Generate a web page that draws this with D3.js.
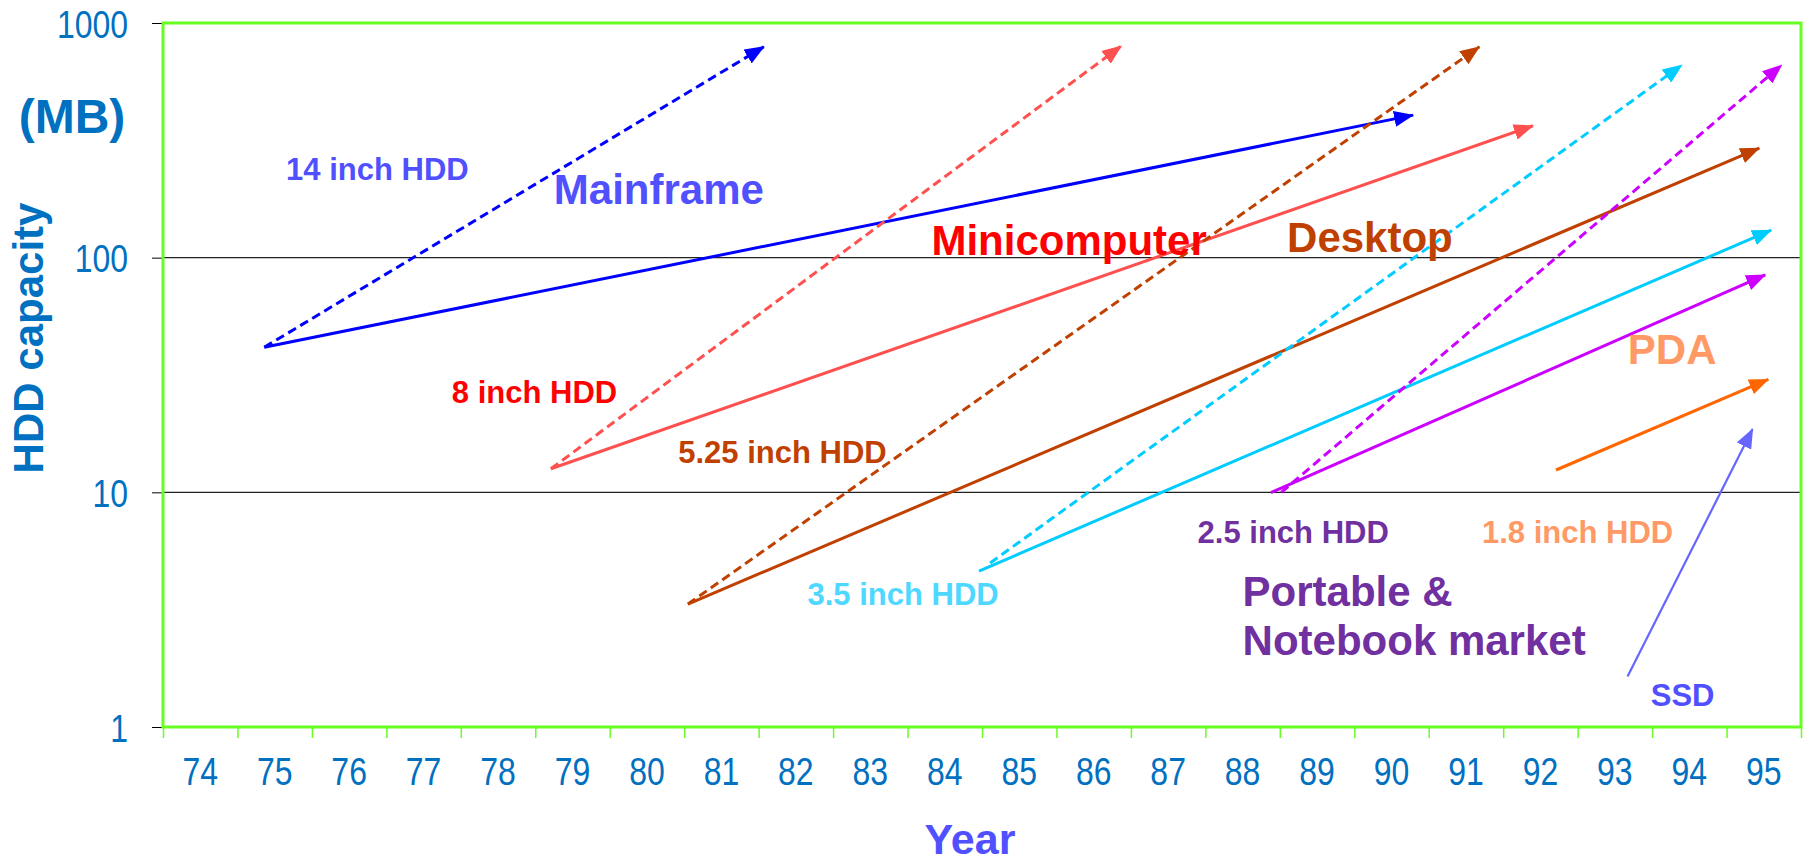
<!DOCTYPE html>
<html>
<head>
<meta charset="utf-8">
<script src="https://cdn.jsdelivr.net/npm/d3@7"></script>
<style>
  body { margin: 0; background: #fff; }
  svg text { font-family: "Liberation Sans", Arial, sans-serif; }
</style>
</head>
<body>
<div id="chart"></div>
<script>
// ---- data ----
var yearLabels = ["74","75","76","77","78","79","80","81","82","83","84",
                  "85","86","87","88","89","90","91","92","93","94","95"];
var capacityTicks = [1, 10, 100, 1000];
var gridValues = [10, 100];

// trend arrows: start (year, MB) -> end (year, MB)
var trendNames   = ["14 dash", "14 solid", "8 dash", "8 solid", "5.25 dash", "5.25 solid",
                    "3.5 dash", "3.5 solid", "2.5 dash", "2.5 solid", "1.8 solid", "SSD"];
var trendFromYear = [74.86, 74.86, 78.71, 78.71, 80.55, 80.55, 84.61, 84.46, 88.52, 88.38, 92.21, 93.17];
var trendFromMB   = [41.5,  41.5,  12.6,  12.6,  3.34,  3.34,  5.0,   4.62,  10,    9.96,  12.45, 1.64];
var trendToYear   = [81.57, 90.29, 86.37, 91.90, 91.18, 94.94, 93.90, 95.10, 95.24, 95.02, 95.06, 94.85];
var trendToMB     = [792,   405,   798,   365,   792,   293,   662,   131,   662,   84.4,  30.3,  18.6];

// text annotations: anchor (year, MB)
var noteText  = ["14 inch HDD", "Mainframe", "8 inch HDD", "Minicomputer", "5.25 inch HDD", "Desktop",
                 "3.5 inch HDD", "2.5 inch HDD", "Portable &", "Notebook market", "1.8 inch HDD", "PDA", "SSD"];
var noteYear  = [76.38, 80.16, 78.49, 85.67, 81.82, 89.71, 83.44, 88.68, 88.0, 88.0, 92.50, 93.77, 93.91];
var noteMB    = [214,   169,   24.0,  102.6, 13.3,  105.7, 3.31,  6.08,  3.28, 2.03, 6.08,  35.2,  1.23];

// ---- styles ----
var trendStyle = {
    "14 dash":    { color: "#0000ff", dash: true },
    "14 solid":   { color: "#0000ff", dash: false },
    "8 dash":     { color: "#ff5050", dash: true },
    "8 solid":    { color: "#ff5050", dash: false },
    "5.25 dash":  { color: "#c04000", dash: true },
    "5.25 solid": { color: "#c04000", dash: false },
    "3.5 dash":   { color: "#00ccff", dash: true },
    "3.5 solid":  { color: "#00ccff", dash: false },
    "2.5 dash":   { color: "#cc00ff", dash: true },
    "2.5 solid":  { color: "#cc00ff", dash: false },
    "1.8 solid":  { color: "#ff6600", dash: false },
    "SSD":        { color: "#6666ff", dash: false, width: 2.2 }
};
var noteStyle = {
    "14 inch HDD":     { color: "#5050ff", size: 31, anchor: "middle" },
    "Mainframe":       { color: "#5050ff", size: 42, anchor: "middle" },
    "8 inch HDD":      { color: "#ff0000", size: 31, anchor: "middle" },
    "Minicomputer":    { color: "#ff0000", size: 42, anchor: "middle" },
    "5.25 inch HDD":   { color: "#c04000", size: 31, anchor: "middle" },
    "Desktop":         { color: "#c04000", size: 42, anchor: "middle" },
    "3.5 inch HDD":    { color: "#4fd8ff", size: 31, anchor: "middle" },
    "2.5 inch HDD":    { color: "#7030a0", size: 31, anchor: "middle" },
    "Portable &":      { color: "#7030a0", size: 42, anchor: "start" },
    "Notebook market": { color: "#7030a0", size: 42, anchor: "start" },
    "1.8 inch HDD":    { color: "#ff9966", size: 31, anchor: "middle" },
    "PDA":             { color: "#ff9966", size: 42, anchor: "middle" },
    "SSD":             { color: "#5050ff", size: 31, anchor: "middle" }
};
var narrow = 0.82;   // tick labels use a condensed look

var margin = { top: 23, right: 9, bottom: 138, left: 163 };
var width = 1810 - margin.left - margin.right,
    height = 865 - margin.top - margin.bottom;

var svg = d3.select("#chart").append("svg")
    .attr("width", 1810)
    .attr("height", 865);

var g = svg.append("g")
    .attr("transform", "translate(" + margin.left + "," + margin.top + ")");

// scales
var xBand = d3.scaleBand().domain(yearLabels).range([0, width]).padding(0);
var x = d3.scaleLinear().domain([73.5, 95.5]).range([0, width]);
var y = d3.scaleLog().domain([1, 1000]).range([height, 0]);

// gridlines
g.selectAll("line.grid")
    .data(gridValues)
    .enter().append("line")
    .attr("class", "grid")
    .attr("x1", 0).attr("x2", width)
    .attr("y1", function(d) { return y(d); })
    .attr("y2", function(d) { return y(d); })
    .attr("stroke", "#222")
    .attr("stroke-width", 1.2);

// y axis
var yAxis = d3.axisLeft(y)
    .tickValues(capacityTicks)
    .tickFormat(d3.format("d"))
    .tickSize(11)
    .tickPadding(24);

var yG = g.append("g").attr("class", "y-axis").call(yAxis);
yG.select(".domain").remove();
yG.selectAll("line").attr("stroke", "#000");
yG.selectAll("text")
    .attr("x", -35 / narrow)
    .attr("transform", "scale(" + narrow + ",1)")
    .attr("fill", "#0070c0")
    .attr("dy", "0.36em")
    .style("font-size", "39px");

// x axis: boundary ticks + centred labels
var xTickAxis = d3.axisBottom(x)
    .tickValues(d3.range(73.5, 96, 1))
    .tickFormat("")
    .tickSize(11);
var xtG = g.append("g").attr("transform", "translate(0," + height + ")").call(xTickAxis);
xtG.select(".domain").remove();
xtG.selectAll("line").attr("stroke", "#66ff22").attr("stroke-width", 1.5);

var xAxis = d3.axisBottom(xBand).tickSize(0).tickPadding(30);
var xG = g.append("g").attr("transform", "translate(0," + height + ")").call(xAxis);
xG.select(".domain").remove();
xG.selectAll("text")
    .attr("transform", "scale(" + narrow + ",1)")
    .attr("fill", "#0070c0")
    .style("font-size", "39px");

// frame
g.append("rect")
    .attr("x", 0).attr("y", 0)
    .attr("width", width).attr("height", height)
    .attr("fill", "none")
    .attr("stroke", "#66ff22")
    .attr("stroke-width", 3);

// arrow markers, one per trend
var defs = svg.append("defs");
trendNames.forEach(function(name, i) {
    defs.append("marker")
        .attr("id", "arrow" + i)
        .attr("markerUnits", "userSpaceOnUse")
        .attr("viewBox", "0 0 20 16")
        .attr("refX", 19)
        .attr("refY", 8)
        .attr("markerWidth", 20)
        .attr("markerHeight", 16)
        .attr("orient", "auto")
        .append("path")
        .attr("d", "M0,0 L20,8 L0,16 Z")
        .attr("fill", trendStyle[name].color);
});

// trend arrows
g.selectAll("line.trend")
    .data(trendNames)
    .enter().append("line")
    .attr("class", "trend")
    .attr("x1", function(d, i) { return x(trendFromYear[i]); })
    .attr("y1", function(d, i) { return y(trendFromMB[i]); })
    .attr("x2", function(d, i) { return x(trendToYear[i]); })
    .attr("y2", function(d, i) { return y(trendToMB[i]); })
    .attr("stroke", function(d) { return trendStyle[d].color; })
    .attr("stroke-width", function(d) { return trendStyle[d].width || 3; })
    .attr("stroke-dasharray", function(d) { return trendStyle[d].dash ? "9,5" : null; })
    .attr("marker-end", function(d, i) { return "url(#arrow" + i + ")"; });

// annotations
g.selectAll("text.note")
    .data(noteText)
    .enter().append("text")
    .attr("class", "note")
    .attr("x", function(d, i) { return x(noteYear[i]); })
    .attr("y", function(d, i) { return y(noteMB[i]); })
    .attr("text-anchor", function(d) { return noteStyle[d].anchor; })
    .attr("fill", function(d) { return noteStyle[d].color; })
    .style("font-size", function(d) { return noteStyle[d].size + "px"; })
    .style("font-weight", "bold")
    .text(function(d) { return d; });

// axis titles
svg.append("text")
    .attr("transform", "translate(43,338) rotate(-90)")
    .attr("text-anchor", "middle")
    .attr("fill", "#0070c0")
    .style("font-size", "42px")
    .style("font-weight", "bold")
    .text("HDD capacity");

svg.append("text")
    .attr("x", 72).attr("y", 133)
    .attr("text-anchor", "middle")
    .attr("fill", "#0070c0")
    .style("font-size", "48px")
    .style("font-weight", "bold")
    .text("(MB)");

svg.append("text")
    .attr("x", 970).attr("y", 854)
    .attr("text-anchor", "middle")
    .attr("fill", "#5050ff")
    .style("font-size", "43px")
    .style("font-weight", "bold")
    .text("Year");
</script>
</body>
</html>
